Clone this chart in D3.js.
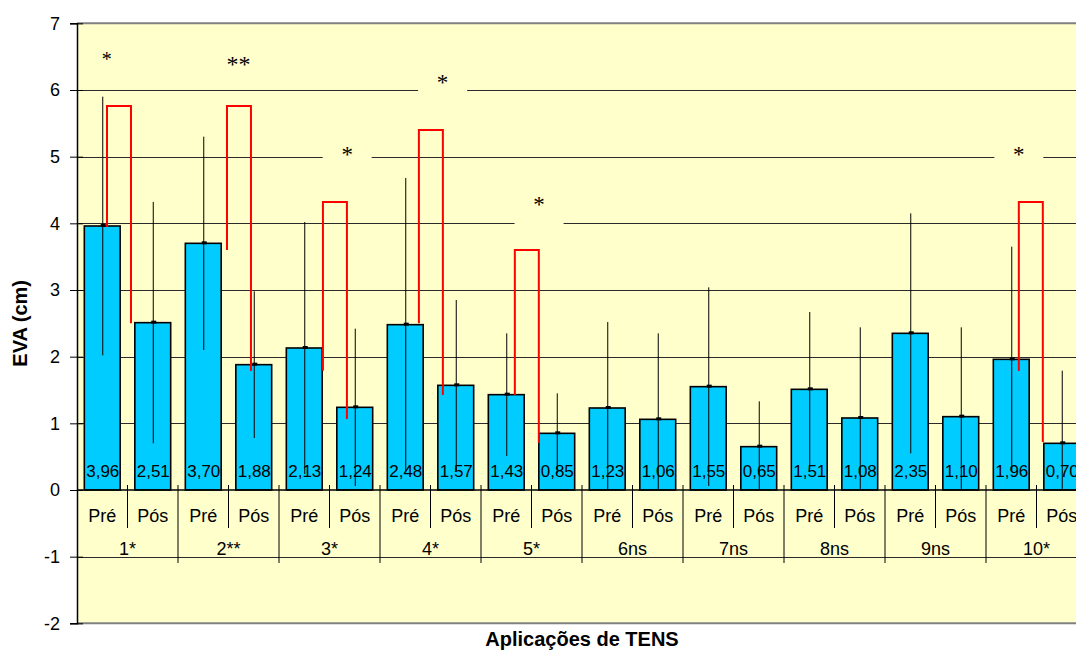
<!DOCTYPE html>
<html>
<head>
<meta charset="utf-8">
<script src="https://cdn.jsdelivr.net/npm/d3@7"></script>
<style>
  html, body { margin: 0; padding: 0; background: #ffffff; }
  svg { display: block; }
  text { font-family: "Liberation Sans", Arial, sans-serif; fill: #000; }
</style>
</head>
<body>
<svg id="chart" width="1076" height="650"></svg>
<script>
// ---------- data ----------
const groups = ["1*", "2**", "3*", "4*", "5*", "6ns", "7ns", "8ns", "9ns", "10*"];
const phases = ["Pré", "Pós"];
const preValues  = [3.96, 3.70, 2.13, 2.48, 1.43, 1.23, 1.55, 1.51, 2.35, 1.96];
const postValues = [2.51, 1.88, 1.24, 1.57, 0.85, 1.06, 0.65, 1.08, 1.10, 0.70];
const preSD  = [1.94, 1.60, 1.89, 2.20, 0.92, 1.29, 1.49, 1.16, 1.80, 1.69];
const postSD = [1.81, 1.10, 1.18, 1.28, 0.60, 1.29, 0.68, 1.36, 1.34, 1.09];
const yTicks = [-2, -1, 0, 1, 2, 3, 4, 5, 6, 7];
const yTitle = "EVA (cm)";
const xTitle = "Aplicações de TENS";

// significance brackets: position on the continuous category index (0..20),
// left-leg bottom value, top value, right-leg bottom value
const bracketU     = [0.594, 2.97, 4.87, 6.77, 8.67, 18.65];
const bracketLeft  = [3.945, 3.60, 1.79, 2.50, 1.425, 1.785];
const bracketTop   = [5.76, 5.76, 4.32, 5.40, 3.60, 4.32];
const bracketRight = [2.50, 1.785, 1.065, 1.425, 0.705, 0.72];

// asterisk annotations: text, category-index position, value position
const starText = ["*", "**", "*", "*", "*", "*"];
const starU    = [0.59, 3.2, 7.24, 5.35, 9.15, 18.65];
const starV    = [6.52, 6.47, 6.18, 5.10, 4.36, 5.10];
const starSize = [20, 24, 23, 23, 23, 23];

// ---------- layout ----------
const svg = d3.select("#chart");
const pLeft = 77, pRight = 1087, pTop = 23.33, pBottom = 623.33;
const y = d3.scaleLinear().domain([-2, 7]).range([pBottom, pTop]);
const xg = d3.scaleBand().domain(groups).range([pLeft, pRight]);
const xs = d3.scaleBand().domain(phases).range([0, xg.bandwidth()])
  .paddingInner(0.29).paddingOuter(0.145);
const xu = d3.scaleLinear().domain([0, 20]).range([pLeft, pRight]);

// plot background
svg.append("rect").attr("x", pLeft).attr("y", pTop)
  .attr("width", pRight - pLeft).attr("height", pBottom - pTop)
  .attr("fill", "#FFFFCC");

// gridlines
svg.append("g").selectAll("line")
  .data(yTicks.filter(v => v !== 0 && v !== 7 && v !== -2))
  .join("line")
  .attr("x1", pLeft).attr("x2", pRight)
  .attr("y1", d => Math.round(y(d)) + 0.5).attr("y2", d => Math.round(y(d)) + 0.5)
  .attr("stroke", "#2a2a2a").attr("stroke-width", 1.2);

// border top / bottom
[7, -2].forEach(v => {
  svg.append("line").attr("x1", pLeft).attr("x2", pRight)
    .attr("y1", y(v)).attr("y2", y(v))
    .attr("stroke", "#808080").attr("stroke-width", 2);
});

// star boxes (background-coloured, hide gridlines)
const stars = starText.map((t, i) => ({ t, u: starU[i], v: starV[i], s: starSize[i] }));
svg.append("g").selectAll("rect")
  .data(stars.filter((d, i) => i >= 2))
  .join("rect")
  .attr("x", d => xu(d.u) - 24.5).attr("width", 49)
  .attr("y", d => y(d.v) - 12).attr("height", 38)
  .attr("fill", "#FFFFCC");

// bars
const bars = [];
groups.forEach((g, i) => {
  bars.push({ g, p: phases[0], v: preValues[i], sd: preSD[i] });
  bars.push({ g, p: phases[1], v: postValues[i], sd: postSD[i] });
});
const bx = d => xg(d.g) + xs(d.p);
svg.append("g").selectAll("rect")
  .data(bars).join("rect")
  .attr("x", bx).attr("width", xs.bandwidth())
  .attr("y", d => y(d.v)).attr("height", d => y(0) - y(d.v))
  .attr("fill", "#00CCFF").attr("stroke", "#000").attr("stroke-width", 1.6);

// error bars
svg.append("g").selectAll("line")
  .data(bars).join("line")
  .attr("x1", d => bx(d) + xs.bandwidth() / 2 + 0.5)
  .attr("x2", d => bx(d) + xs.bandwidth() / 2 + 0.5)
  .attr("y1", d => y(d.v + d.sd))
  .attr("y2", d => y(Math.max(0, d.v - d.sd)))
  .attr("stroke", "#000").attr("stroke-width", 1);
svg.append("g").selectAll("rect")
  .data(bars).join("rect")
  .attr("x", d => bx(d) + xs.bandwidth() / 2 - 1.5)
  .attr("y", d => y(d.v) - 2).attr("width", 5).attr("height", 3)
  .attr("fill", "#000");

// value labels
svg.append("g").selectAll("text")
  .data(bars).join("text")
  .attr("x", d => bx(d) + xs.bandwidth() / 2 + 0.5)
  .attr("y", y(0) - 13)
  .attr("text-anchor", "middle").attr("font-size", 17)
  .text(d => d.v.toFixed(2).replace(".", ","));

// significance brackets
const brackets = bracketU.map((u, i) => ({ u, l: bracketLeft[i], t: bracketTop[i], r: bracketRight[i] }));
svg.append("g").selectAll("path")
  .data(brackets).join("path")
  .attr("d", d => {
    const x1 = xu(d.u), x2 = xu(d.u + 0.475);
    return `M${x1},${y(d.l)}V${y(d.t)}H${x2}V${y(d.r)}`;
  })
  .attr("fill", "none").attr("stroke", "#FF0000").attr("stroke-width", 2);

// stars
svg.append("g").selectAll("text")
  .data(stars).join("text")
  .attr("x", d => xu(d.u)).attr("y", d => y(d.v) + d.s * 0.54)
  .attr("text-anchor", "middle")
  .style("font-family", "'Liberation Serif', 'Times New Roman', serif")
  .attr("font-size", d => d.s)
  .attr("fill", "#222")
  .text(d => d.t);

// zero axis line
svg.append("line").attr("x1", pLeft).attr("x2", pRight)
  .attr("y1", y(0)).attr("y2", y(0)).attr("stroke", "#000").attr("stroke-width", 1.5);

// category axis ticks
svg.append("g").selectAll("line")
  .data(groups).join("line")
  .attr("x1", g => xg(g) + xg.bandwidth() / 2).attr("x2", g => xg(g) + xg.bandwidth() / 2)
  .attr("y1", y(0) - 5).attr("y2", y(0) + 38)
  .attr("stroke", "#000").attr("stroke-width", 1);
svg.append("g").selectAll("line")
  .data(groups.slice(1)).join("line")
  .attr("x1", g => xg(g)).attr("x2", g => xg(g))
  .attr("y1", y(0) - 5).attr("y2", y(0) + 73)
  .attr("stroke", "#000").attr("stroke-width", 1);

// category labels
svg.append("g").selectAll("text")
  .data(bars).join("text")
  .attr("x", d => bx(d) + xs.bandwidth() / 2)
  .attr("y", y(0) + 32)
  .attr("text-anchor", "middle").attr("font-size", 18)
  .text(d => d.p);
svg.append("g").selectAll("text")
  .data(groups).join("text")
  .attr("x", g => xg(g) + xg.bandwidth() / 2)
  .attr("y", y(0) + 65)
  .attr("text-anchor", "middle").attr("font-size", 18)
  .text(g => g);

// y axis
const yAxis = d3.axisLeft(y).tickValues(yTicks).tickSize(7).tickPadding(10)
  .tickFormat(d => String(d));
const ya = svg.append("g").attr("transform", `translate(${pLeft},0)`).call(yAxis);
ya.select(".domain").attr("stroke", "#000").attr("stroke-width", 1.5);
ya.selectAll(".tick line").attr("x1", 6).attr("stroke", "#000");
ya.selectAll(".tick text").attr("font-size", 18)
  .style("font-family", "'Liberation Sans', Arial, sans-serif").attr("fill", "#000");

// axis titles
svg.append("text")
  .attr("transform", `translate(27,${(pTop + pBottom) / 2}) rotate(-90)`)
  .attr("text-anchor", "middle").attr("font-size", 20).attr("font-weight", "bold")
  .text(yTitle);
svg.append("text")
  .attr("x", (pLeft + pRight) / 2).attr("y", 646)
  .attr("text-anchor", "middle").attr("font-size", 20).attr("font-weight", "bold")
  .text(xTitle);
</script>
</body>
</html>
